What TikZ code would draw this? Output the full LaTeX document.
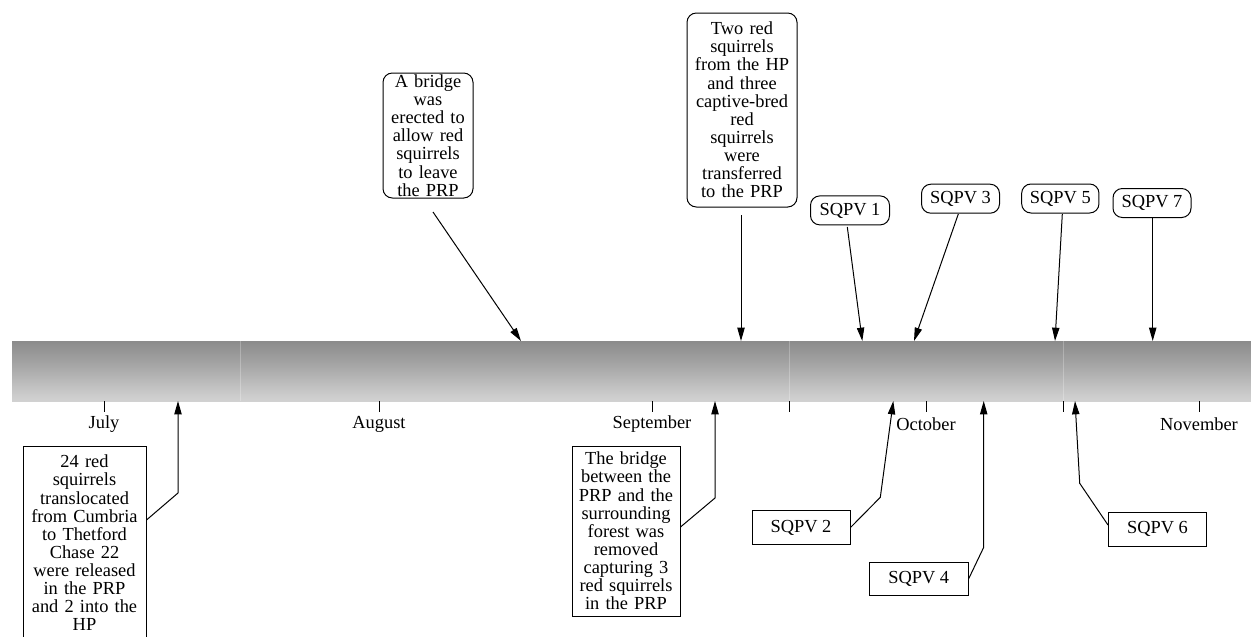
\documentclass[tikz,border=0pt]{standalone}
\usepackage{fontspec}
\setmainfont{Liberation Serif}
\usetikzlibrary{arrows.meta}
\pgfdeclareverticalshading{barshade}{100bp}{%
  color(0bp)=(black!30);
  color(6bp)=(black!22);
  color(18bp)=(black!15);
  color(30bp)=(black!20);
  color(55bp)=(black!35);
  color(80bp)=(black!48);
  color(100bp)=(black!62)}
\newcommand{\evfont}{\fontsize{13.8pt}{13.6pt}\selectfont}
\tikzset{
  ev/.style={draw, line width=0.75pt, font=\evfont, align=center, inner sep=0pt},
  rev/.style={ev, rounded corners=7pt},
  arr/.style={line width=0.75pt, -{Triangle[length=10pt,width=5.5pt]}},
  conn/.style={line width=0.75pt},
  tick/.style={line width=0.75pt},
  month/.style={font=\evfont, inner sep=0pt},
  barbox/.style={shading=barshade, minimum width=929.25pt, minimum height=45pt, inner sep=0pt}
}
\begin{document}
\begin{tikzpicture}[x=0.75pt,y=-0.75pt]
\useasboundingbox (0,0) rectangle (1251,636);
% timeline bar
\node[barbox] (bar) at (631.5,371) {};
\foreach \x in {240.7,789,1063}
  \draw[white, opacity=0.25, line width=0.75pt] (\x,341) -- (\x,401);
% ticks and months
\foreach \x in {104,379,652,789,926,1063,1199}
  \draw[tick] (\x,401) -- (\x,412);
\node[month] (m7) at (104,424) {July};
\node[month] (m8) at (379,424) {August};
\node[month] (m9) at (652,424) {September};
\node[month] (m10) at (926,424) {October};
\node[month] (m11) at (1199,424) {November};
% events above
\node[rev, minimum width=67.5pt, minimum height=93.75pt, text width=64pt] (b2) at (428,135.5)
  {A bridge\\was\\erected to\\allow red\\squirrels\\to leave\\the PRP};
\node[rev, minimum width=82.5pt, minimum height=145.5pt, text width=80pt] (b3) at (742,110)
  {Two red\\squirrels\\from the HP\\and three\\captive-bred\\red\\squirrels\\were\\transferred\\to the PRP};
\node[rev, minimum width=59.25pt, minimum height=21.75pt] (q1) at (850,210.4) {SQPV 1};
\node[rev, minimum width=58.5pt, minimum height=21.75pt] (q3) at (960.5,198.7) {SQPV 3};
\node[rev, minimum width=58pt, minimum height=21.75pt] (q5) at (1060.3,198.5) {SQPV 5};
\node[rev, minimum width=58.5pt, minimum height=21.75pt] (q7) at (1152,203) {SQPV 7};
% events below
\node[ev, minimum width=92.25pt, minimum height=145.5pt, text width=88pt] (b1) at (84.5,543)
  {24 red\\squirrels\\translocated\\from Cumbria\\to Thetford\\Chase 22\\were released\\in the PRP\\and 2 into the\\HP};
\node[ev, minimum width=81pt, minimum height=127.5pt, text width=78pt] (b5) at (626,531)
  {The bridge\\between the\\PRP and the\\surrounding\\forest was\\removed\\capturing 3\\red squirrels\\in the PRP};
\node[ev, minimum width=73.5pt, minimum height=25.5pt] (q2) at (801,527.5) {SQPV 2};
\node[ev, minimum width=74pt, minimum height=25pt] (q4) at (918.7,579) {SQPV 4};
\node[ev, minimum width=73.5pt, minimum height=25.5pt] (q6) at (1157.5,529) {SQPV 6};
% connector points
\coordinate (s2) at (433,212);   \coordinate (e2) at (521,341);
\coordinate (s3) at (741,215);   \coordinate (e3) at (741,341);
\coordinate (s1q) at (847.3,227); \coordinate (e1q) at (862.3,341);
\coordinate (s3q) at (958.3,214); \coordinate (e3q) at (914,341);
\coordinate (s5q) at (1062.3,214); \coordinate (e5q) at (1055,341);
\coordinate (s7q) at (1152.7,218); \coordinate (e7q) at (1152.7,341);
\coordinate (k1) at (178,493);   \coordinate (e1) at (178,401);
\coordinate (k5) at (715,498);   \coordinate (e5) at (715,401);
\coordinate (k2q) at (880.3,497.3); \coordinate (e2q) at (893.3,401);
\coordinate (k4q) at (983.7,547.3); \coordinate (e4q) at (983.7,401);
\coordinate (k6q) at (1079.7,483.3); \coordinate (e6q) at (1075,401);
% connectors
\draw[arr] (s2) -- (e2);
\draw[arr] (s3) -- (e3);
\draw[arr] (s1q) -- (e1q);
\draw[arr] (s3q) -- (e3q);
\draw[arr] (s5q) -- (e5q);
\draw[arr] (s7q) -- (e7q);
\draw[arr] (b1.east |- 0,520) -- (k1) -- (e1);
\draw[arr] (b5.east |- 0,527) -- (k5) -- (e5);
\draw[arr] (q2.east) -- (k2q) -- (e2q);
\draw[arr] (q4.east) -- (k4q) -- (e4q);
\draw[arr] (q6.west |- 0,525) -- (k6q) -- (e6q);
\end{tikzpicture}
\end{document}
